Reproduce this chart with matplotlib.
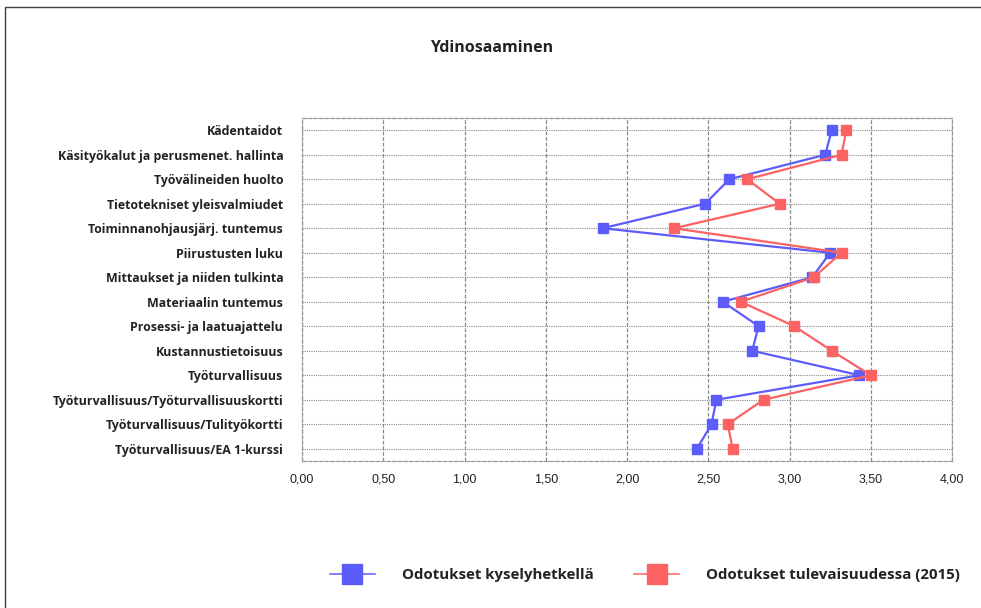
import matplotlib
matplotlib.use("Agg")
import matplotlib.pyplot as plt
from matplotlib.patches import Rectangle
from matplotlib.ticker import FuncFormatter

categories = [
    "Kädentaidot",
    "Käsityökalut ja perusmenet. hallinta",
    "Työvälineiden huolto",
    "Tietotekniset yleisvalmiudet",
    "Toiminnanohjausjärj. tuntemus",
    "Piirustusten luku",
    "Mittaukset ja niiden tulkinta",
    "Materiaalin tuntemus",
    "Prosessi- ja laatuajattelu",
    "Kustannustietoisuus",
    "Työturvallisuus",
    "Työturvallisuus/Työturvallisuuskortti",
    "Työturvallisuus/Tulityökortti",
    "Työturvallisuus/EA 1-kurssi",
]
now_vals = [3.26, 3.22, 2.63, 2.48, 1.85, 3.25, 3.14, 2.59, 2.81, 2.77, 3.43, 2.55, 2.52, 2.43]
future_vals = [3.35, 3.32, 2.74, 2.94, 2.29, 3.32, 3.15, 2.70, 3.03, 3.26, 3.50, 2.84, 2.62, 2.65]
series_names = ["Odotukset kyselyhetkellä", "Odotukset tulevaisuudessa (2015)"]
x_ticks = [0, 0.5, 1.0, 1.5, 2.0, 2.5, 3.0, 3.5, 4.0]

blue = "#5c5cfa"
red = "#fd6262"
plt.rcParams["font.family"] = ["Open Sans", "DejaVu Sans"]

fig = plt.figure(figsize=(9.81, 6.08), dpi=100)
ax = fig.add_axes([302 / 981, 1 - 461 / 608, 650 / 981, 343 / 608])

# outer frame
fig.patches.append(Rectangle((5 / 981, -0.1), 1.1, 1 - 7 / 608 + 0.1,
                             transform=fig.transFigure, fill=False,
                             edgecolor="#404040", lw=1.0))

ypos = list(range(len(categories)))
ax.plot(now_vals, ypos, color=blue, lw=1.6, marker="s", ms=7.5,
        label=series_names[0], zorder=3)
ax.plot(future_vals, ypos, color=red, lw=1.6, marker="s", ms=7.5,
        label=series_names[1], zorder=3)

ax.set_xlim(0, 4)
ax.set_ylim(len(categories) - 0.5, -0.5)
ax.set_xticks(x_ticks)
ax.xaxis.set_major_formatter(FuncFormatter(lambda v, p: f"{v:.2f}".replace(".", ",")))
for lab in ax.get_xticklabels():
    lab.set_family(["Liberation Sans", "DejaVu Sans"])
ax.set_yticks(ypos)
ax.set_yticklabels(categories, fontweight="bold", fontsize=8.9, color="#222222")
ax.tick_params(axis="x", length=0, labelsize=9, pad=9, colors="#222222")
ax.tick_params(axis="y", length=0, pad=13.5)

ax.grid(axis="x", color="#8a8a8a", ls=(0, (3, 1.5)), lw=0.9)
ax.grid(axis="y", color="#8a8a8a", ls=(0, (1, 1)), lw=0.8)
ax.set_axisbelow(True)
for s in ax.spines.values():
    s.set_color("#9a9a9a")
    s.set_linestyle((0, (3, 1.5)))
    s.set_linewidth(0.9)

fig.text(492 / 981, 1 - 48 / 608, "Ydinosaaminen", ha="center", va="center",
         fontsize=11.5, fontweight="bold", color="#222222")

leg = fig.legend(loc="center", bbox_to_anchor=(645 / 981, 1 - 575 / 608),
                 ncol=2, frameon=False, handlelength=3.0, columnspacing=2.7,
                 handletextpad=1.8, prop={"weight": "bold", "size": 10.8})
for line in leg.get_lines():
    line.set_markersize(15)
    line.set_linewidth(1.1)
for t in leg.get_texts():
    t.set_color("#222222")

fig.savefig("out.png", dpi=100)
